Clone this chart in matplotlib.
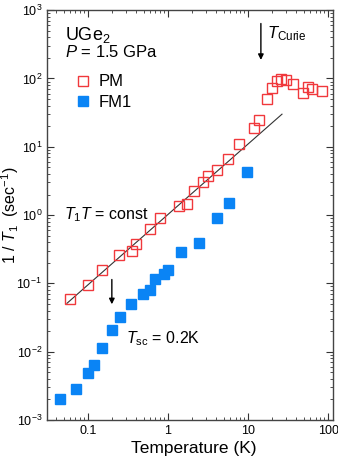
import numpy as np
import matplotlib
matplotlib.use("Agg")
import matplotlib.pyplot as plt

plt.rcParams['font.family'] = ['Liberation Sans', 'DejaVu Sans']
plt.rcParams['mathtext.fontset'] = 'custom'
plt.rcParams['mathtext.rm'] = 'Liberation Sans'
plt.rcParams['mathtext.it'] = 'Liberation Sans:italic'
plt.rcParams['mathtext.bf'] = 'Liberation Sans:bold'

# PM (paramagnetic) data, 1/T1 vs T
pm_T = [0.06, 0.10, 0.15, 0.244, 0.355, 0.40, 0.60, 0.79, 1.38, 1.73, 2.1, 2.74,
        3.16, 4.1, 5.6, 7.7, 11.8, 13.7, 17.4, 20, 23, 26, 30, 36.5, 49, 56, 63, 84]
pm_y = [0.059, 0.094, 0.156, 0.26, 0.295, 0.375, 0.62, 0.90, 1.35, 1.45, 2.24, 3.1,
        3.7, 4.5, 6.6, 10.9, 18.7, 25, 50, 72, 91, 98, 94, 83, 61, 75, 70, 65]

# FM1 data
fm_T = [0.045, 0.071, 0.10, 0.12, 0.15, 0.20, 0.25, 0.35, 0.49, 0.60, 0.69, 0.89,
        1.0, 1.48, 2.45, 4.1, 5.8, 9.7]
fm_y = [0.0020, 0.0028, 0.0049, 0.0063, 0.0112, 0.0207, 0.032, 0.050, 0.069, 0.079,
        0.115, 0.136, 0.156, 0.286, 0.39, 0.90, 1.49, 4.25]

# T1T = const guide line
line_T = [0.055, 26.6]
line_y = [0.051, 30]

fig = plt.figure(figsize=(3.38, 4.62), dpi=100)
ax = fig.add_axes([0.139, 0.091, 0.846, 0.887])

ax.plot(line_T, line_y, color='#333333', lw=0.8, zorder=1)
ax.plot(pm_T, pm_y, 's', mfc='none', mec='#f0383c', mew=1.0, ms=7, label='PM', zorder=3)
ax.plot(fm_T, fm_y, 's', color='#0a84f5', mec='#0a84f5', ms=7, label='FM1', zorder=2)

ax.set_xscale('log')
ax.set_yscale('log')
ax.set_xlim(0.031, 115)
ax.set_ylim(1e-3, 1e3)

ax.set_xticks([0.1, 1, 10, 100])
ax.set_xticklabels(['0.1', '1', '10', '100'])
ax.tick_params(which='both', direction='in', top=True, right=True, labelsize=9, colors='#333333',
               labelcolor='black')
ax.tick_params(which='major', length=5)
ax.tick_params(which='minor', length=2.5)
for s in ax.spines.values():
    s.set_color('#444444')
    s.set_linewidth(1.0)

ax.set_xlabel('Temperature (K)', fontsize=12.5)
ax.set_ylabel('1 / $T_1$  (sec$^{-1}$)', fontsize=11.5)
ax.xaxis.set_label_coords(0.515, -0.052)
ax.yaxis.set_label_coords(-0.092, 0.5)

ax.text(0.062, 0.965, 'UGe$_2$', transform=ax.transAxes, fontsize=13, va='top')
ax.text(0.062, 0.918, '$P$ = 1.5 GPa', transform=ax.transAxes, fontsize=12, va='top')
ax.text(0.05, 1.0, '$T_1T$ = const', fontsize=11.5, va='center')
ax.text(0.30, 0.0155, '$T_{\\rm sc}$ = 0.2K', fontsize=11.5, va='center')
ax.text(17.5, 450, '$T_{\\rm Curie}$', fontsize=12, va='center')

ax.annotate('', xy=(14.5, 170), xytext=(14.5, 700),
            arrowprops=dict(arrowstyle='-|>', color='black', lw=1.0, mutation_scale=8))
ax.annotate('', xy=(0.2, 0.045), xytext=(0.2, 0.125),
            arrowprops=dict(arrowstyle='-|>', color='black', lw=1.0, mutation_scale=8))

ax.legend(loc='upper left', bbox_to_anchor=(0.04, 0.88), frameon=False, fontsize=12,
          handletextpad=0.3, labelspacing=0.35, handlelength=1.2)

fig.savefig('out.png', dpi=100)
